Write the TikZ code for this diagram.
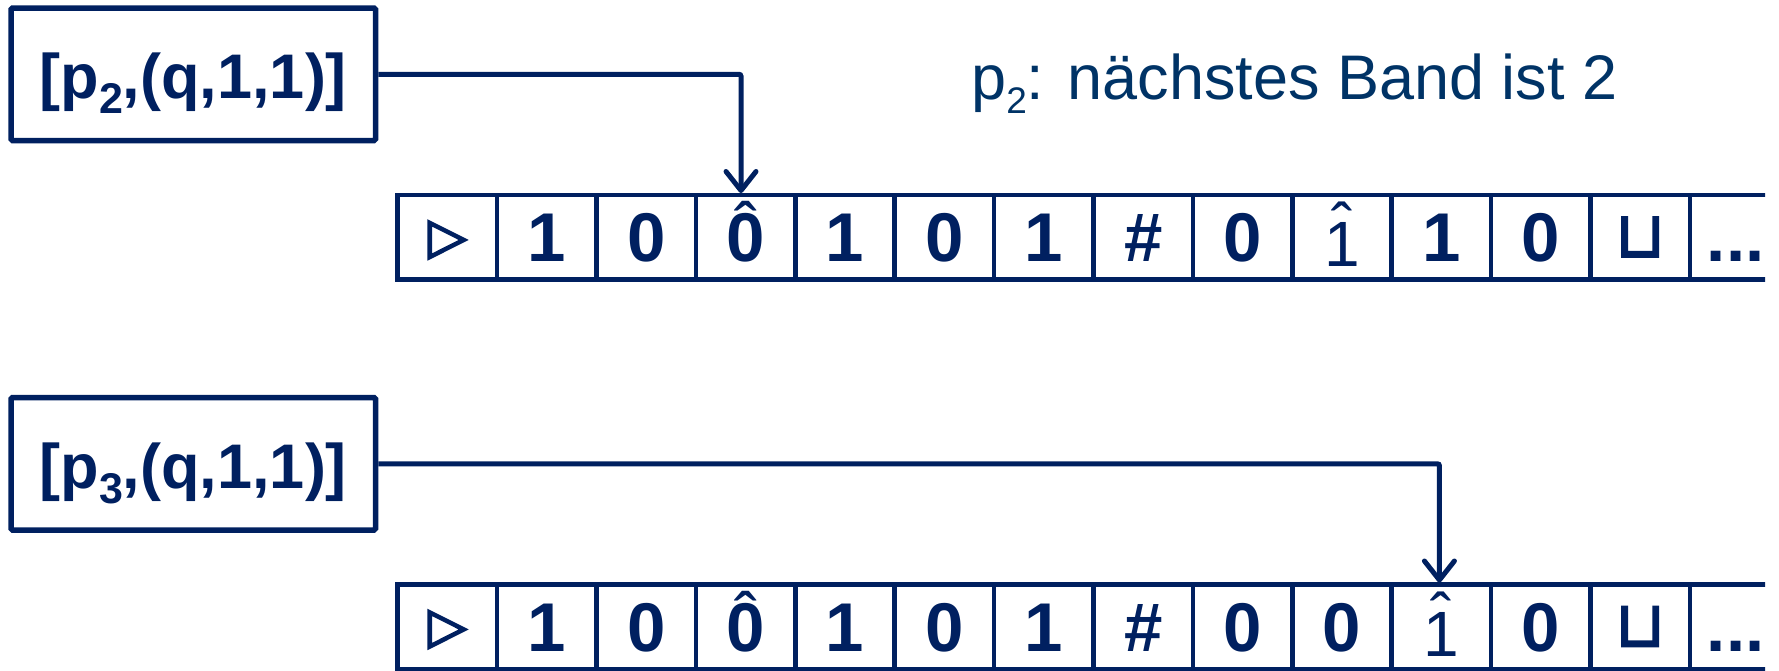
\documentclass[tikz,border=0pt]{standalone}
\usepackage{fontspec}
\setmainfont{Liberation Sans}
\newfontfamily\trifont{DejaVu Sans}[FakeBold=4]
\newfontfamily\cupfont{DejaVu Sans}[FakeBold=2.5]
\usetikzlibrary{arrows.meta}
\definecolor{navy}{RGB}{0,32,96}
\definecolor{annot}{RGB}{0,51,102}
\newcommand\hatA[1]{\ooalign{#1\cr\hidewidth\raisebox{10pt}{\fontseries{m}\selectfont ˆ}\hidewidth\cr}}
\newcommand\hatB[1]{\raisebox{-5pt}{\fontseries{m}\fontsize{64}{64}\selectfont\ooalign{#1\cr\hidewidth\raisebox{18pt}{ˆ}\hidewidth\cr}}}
\newcommand\tri{\raisebox{9pt}{\trifont\mdseries\fontsize{50}{50}\selectfont ▷}}
\newcommand\blank{\raisebox{5pt}{\cupfont\mdseries\fontsize{64}{64}\selectfont ⊔}}
\newcommand\subtwo[1]{\raisebox{-15pt}{\fontsize{43}{43}\selectfont #1}}
\tikzset{
  statebox/.style={draw=navy, line width=5.5pt, rounded corners=1.5pt,
    minimum width=364.5pt, minimum height=132.5pt, inner sep=0pt, text=navy,
    font=\bfseries\fontsize{63}{63}\selectfont, text height=63.5pt, text depth=15pt},
  cell/.style={draw=navy, line width=4.5pt, minimum width=99.4pt, minimum height=84.5pt,
    inner sep=0pt, outer sep=0pt, text=navy, font=\bfseries\fontsize{69}{69}\selectfont,
    text height=49.4pt, text depth=0pt},
  dotcell/.style={cell, draw=none, anchor=west, inner xsep=17pt, minimum width=0pt},
  tapeline/.style={navy, line width=4.5pt},
  conn/.style={navy, line width=5pt, rounded corners=2pt,
    -{Straight Barb[length=19pt,width=30pt,round]}},
  note/.style={text=annot, font=\fontsize{63}{63}\selectfont, inner sep=0pt, anchor=base west},
}
\begin{document}
\begin{tikzpicture}[x=1pt,y=-1pt]
\useasboundingbox (0,0) rectangle (1779,670);
\node[statebox] (b1) at (193.25,74.25) {[p\subtwo{2},(q,1,1)]};
\node[statebox] (b2) at (193.25,463.75) {[p\subtwo{3},(q,1,1)]};
\node[note] (n1) at (971,99) {p\raisebox{-14pt}{\fontsize{37}{37}\selectfont 2}: nächstes Band ist 2};
\begin{scope}
\clip (0,0) rectangle (1765,670);
\foreach [count=\i] \s in {\tri,1,0,\hatA{0},1,0,1,\#,0,\hatB{1},1,0,\blank}
  \node[cell] (a\i) at ({397.7+(\i-0.5)*99.4},237.25) {\s};
\node[dotcell] (a14) at (a13.east) {...};
\coordinate (aendtop) at (1780,195);
\coordinate (aendbot) at (1780,279.5);
\draw[tapeline] (a13.north east) -- (aendtop);
\draw[tapeline] (a13.south east) -- (aendbot);
\foreach [count=\i] \s in {\tri,1,0,\hatA{0},1,0,1,\#,0,0,\hatB{1},0,\blank}
  \node[cell] (c\i) at ({397.7+(\i-0.5)*99.4},626.75) {\s};
\node[dotcell] (c14) at (c13.east) {...};
\coordinate (cendtop) at (1780,584.5);
\coordinate (cendbot) at (1780,669);
\draw[tapeline] (c13.north east) -- (cendtop);
\draw[tapeline] (c13.south east) -- (cendbot);
\end{scope}
\draw[conn] (b1.east) -| ([xshift=-4.6pt,yshift=2pt]a4.north);
\draw[conn] (b2.east) -| ([xshift=-2pt,yshift=2pt]c11.north);
\end{tikzpicture}
\end{document}
